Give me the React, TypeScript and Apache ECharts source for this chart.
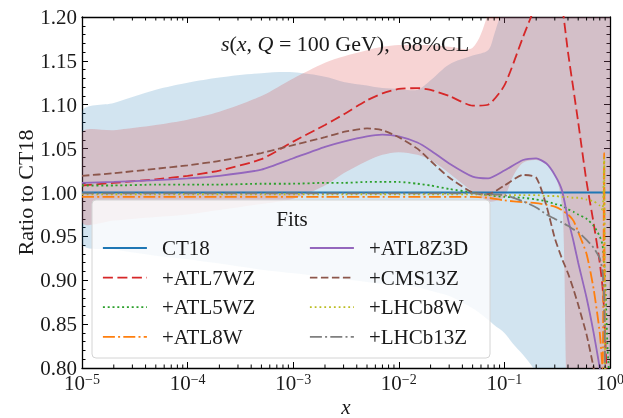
import React, { useEffect, useRef } from "react";
import * as echarts from "echarts";

const FONT = "'Liberation Serif', 'DejaVu Serif', serif";
const TXT = "#1a1a1a";

// x grid shared by the central curves
const xGrid = [1e-5, 2e-5, 5e-5, 1e-4, 2e-4, 5e-4, 1e-3, 2e-3, 3e-3, 5e-3, 7e-3, 1e-2, 1.5e-2, 2e-2, 3e-2, 5e-2, 7e-2, 0.1, 0.15, 0.2, 0.25, 0.3, 0.35, 0.4, 0.45, 0.5, 0.6, 0.7, 0.8, 0.85, 0.88, 0.9, 0.95, 1.0];

const ct18 = [1, 1, 1, 1, 1, 1, 1, 1, 1, 1, 1, 1, 1, 1, 1, 1, 1, 1, 1, 1, 1, 1, 1, 1, 1, 1, 1, 1, 1, 1, 1, 1, 1, 1];
const atl7wz = [1.008, 1.011, 1.015, 1.019, 1.025, 1.038, 1.058, 1.077, 1.089, 1.105, 1.113, 1.118, 1.119, 1.117, 1.110, 1.099, 1.100, 1.122, 1.177, 1.215, 1.245, 1.255, 1.215, 1.160, 1.118, 1.080, 1.012, 0.965, 0.920, 0.892, 0.865, 0.835, 0.770, 0.700];
const atl5wz = [1.008, 1.008, 1.009, 1.009, 1.009, 1.010, 1.010, 1.011, 1.011, 1.012, 1.012, 1.012, 1.010, 1.008, 1.004, 1.000, 0.997, 0.995, 0.994, 0.992, 0.990, 0.987, 0.985, 0.981, 0.978, 0.975, 0.970, 0.962, 0.950, 0.940, 0.920, 0.900, 0.820, 0.780];
const atl8w = [0.995, 0.995, 0.995, 0.995, 0.995, 0.995, 0.995, 0.995, 0.995, 0.995, 0.995, 0.995, 0.995, 0.995, 0.995, 0.995, 0.994, 0.991, 0.989, 0.988, 0.986, 0.984, 0.980, 0.975, 0.968, 0.955, 0.930, 0.890, 0.840, 0.800, 1.045, 0.780, 0.760, 0.750];
const atl8z3d = [1.011, 1.012, 1.014, 1.016, 1.019, 1.026, 1.039, 1.052, 1.058, 1.064, 1.066, 1.064, 1.057, 1.048, 1.033, 1.018, 1.016, 1.025, 1.037, 1.039, 1.033, 1.020, 1.003, 0.970, 0.945, 0.920, 0.880, 0.840, 0.800, 0.780, 0.770, 0.760, 0.740, 0.730];
const cms13z = [1.019, 1.022, 1.027, 1.031, 1.036, 1.045, 1.054, 1.063, 1.069, 1.073, 1.071, 1.063, 1.050, 1.036, 1.017, 1.000, 0.998, 1.008, 1.020, 1.017, 0.985, 0.948, 0.925, 0.908, 0.890, 0.872, 0.838, 0.800, 0.760, 0.745, 0.735, 0.725, 0.710, 0.700];
const lhcb8w = [0.998, 0.998, 0.998, 0.998, 0.998, 0.998, 0.998, 0.998, 0.998, 0.998, 0.998, 0.998, 0.998, 0.998, 0.998, 0.998, 0.997, 0.997, 0.997, 0.997, 0.996, 0.996, 0.995, 0.995, 0.994, 0.994, 0.992, 0.990, 0.985, 0.980, 1.040, 0.780, 0.760, 0.750];
const lhcb13z = [0.999, 0.999, 0.999, 0.999, 0.999, 0.999, 0.999, 0.999, 0.999, 0.999, 0.999, 0.999, 0.999, 0.999, 0.999, 0.999, 0.998, 0.997, 0.990, 0.983, 0.975, 0.970, 0.966, 0.962, 0.958, 0.955, 0.946, 0.937, 0.925, 0.910, 0.880, 0.800, 0.750, 0.720];

// 68% CL bands
const bandX = [1e-5, 2e-5, 5e-5, 1e-4, 2e-4, 5e-4, 1e-3, 2e-3, 3e-3, 5e-3, 7e-3, 1e-2, 1.5e-2, 2e-2, 3e-2, 5e-2, 7e-2, 8e-2, 0.1, 0.12, 0.15, 0.2, 0.25, 0.3, 0.33, 0.36, 0.4, 0.5, 0.7, 1.0];
const ct18Upper = [1.092, 1.102, 1.117, 1.125, 1.131, 1.136, 1.137, 1.132, 1.126, 1.122, 1.119, 1.118, 1.117, 1.128, 1.146, 1.156, 1.162, 1.180, 1.220, 1.280, 1.330, 1.400, 1.400, 1.400, 1.400, 1.400, 1.400, 1.400, 1.400, 1.400];
const ct18Lower = [0.942, 0.935, 0.928, 0.924, 0.919, 0.912, 0.908, 0.904, 0.901, 0.898, 0.896, 0.895, 0.892, 0.888, 0.882, 0.868, 0.855, 0.849, 0.840, 0.828, 0.815, 0.795, 0.770, 0.740, 0.720, 0.700, 0.680, 0.650, 0.600, 0.600];
const atl7Upper = [1.068, 1.071, 1.077, 1.083, 1.092, 1.110, 1.130, 1.148, 1.155, 1.162, 1.166, 1.168, 1.168, 1.168, 1.166, 1.165, 1.205, 1.250, 1.300, 1.350, 1.400, 1.400, 1.400, 1.400, 1.400, 1.400, 1.400, 1.400, 1.400, 1.400];
const atl7Lower = [0.966, 0.968, 0.972, 0.975, 0.980, 0.987, 0.993, 1.008, 1.022, 1.036, 1.043, 1.046, 1.043, 1.037, 1.022, 1.001, 0.990, 0.990, 0.995, 1.018, 1.034, 1.037, 1.032, 1.020, 1.005, 0.970, 0.720, 0.600, 0.600, 0.600];

const yTicks = { min: 0.8, max: 1.2, step: 0.05 };
const xRange = { min: 1e-5, max: 1 };
const decades = [1e-5, 1e-4, 1e-3, 1e-2, 1e-1];
const minorMultipliers = [2, 3, 4, 5, 6, 7, 8, 9];

const legendLeft = ["CT18", "+ATL7WZ", "+ATL5WZ", "+ATL8W"];
const legendRight = ["+ATL8Z3D", "+CMS13Z", "+LHCb8W", "+LHCb13Z"];

const curves = [
  { name: "CT18", y: ct18, color: "#1f77b4", dash: "solid" as any },
  { name: "+ATL7WZ", y: atl7wz, color: "#d62728", dash: [10, 4.5] },
  { name: "+ATL5WZ", y: atl5wz, color: "#2ca02c", dash: [2, 2.8] },
  { name: "+ATL8W", y: atl8w, color: "#ff7f0e", dash: [12, 3.2, 2, 3.2] },
  { name: "+ATL8Z3D", y: atl8z3d, color: "#9467bd", dash: "solid" as any },
  { name: "+CMS13Z", y: cms13z, color: "#8c564b", dash: [7.5, 3.5] },
  { name: "+LHCb8W", y: lhcb8w, color: "#bcbd22", dash: [1.8, 3] },
  { name: "+LHCb13Z", y: lhcb13z, color: "#7f7f7f", dash: [12, 3.2, 2, 3.2] },
];

function bandSeries(name: string, lo: number[], hi: number[], fill: string) {
  return {
    type: "custom",
    name,
    data: [[bandX[0], lo[0]]],
    encode: { x: 0, y: 1 },
    clip: true,
    silent: true,
    z: 1,
    renderItem: (params: any, api: any) => {
      const pts: number[][] = [];
      for (let i = 0; i < bandX.length; i++) pts.push(api.coord([bandX[i], hi[i]]));
      for (let i = bandX.length - 1; i >= 0; i--) pts.push(api.coord([bandX[i], lo[i]]));
      return { type: "polygon", shape: { points: pts, smooth: 0.3 }, style: { fill, stroke: "none" } };
    },
  };
}

export default function App() {
  const ref = useRef<HTMLDivElement>(null);
  useEffect(() => {
    if (!ref.current) return;
    const chart = echarts.init(ref.current, undefined, { renderer: "svg" });
    const minorX: number[] = [];
    decades.forEach((d) => minorMultipliers.forEach((m) => minorX.push(m * d)));

    const legendCommon = {
      orient: "vertical",
      top: 237,
      itemWidth: 44,
      itemHeight: 22,
      itemGap: 7.6,
      padding: 0,
      selectedMode: false,
      z: 60,
      itemStyle: { opacity: 0 },
      lineStyle: { width: 1.8 },
      textStyle: { fontFamily: FONT, fontSize: 21, color: TXT, lineHeight: 22, padding: [0, 0, 0, 10] },
    };

    const axisCommonX = {
      type: "log",
      logBase: 10,
      min: xRange.min,
      max: xRange.max,
      splitNumber: 5,
      splitLine: { show: false },
      axisLine: { onZero: false, lineStyle: { color: "#000", width: 1.3 } },
      axisTick: { inside: true, length: 6, lineStyle: { color: "#000", width: 1 } },
    };
    const axisCommonY = {
      type: "value",
      min: yTicks.min,
      max: yTicks.max,
      interval: yTicks.step,
      splitLine: { show: false },
      axisLine: { onZero: false, lineStyle: { color: "#000", width: 1.3 } },
      axisTick: { inside: true, length: 6, lineStyle: { color: "#000", width: 1 } },
      minorTick: { show: true, splitNumber: 5, length: 3.5, lineStyle: { color: "#000", width: 1 } },
    };

    const option: any = {
      animation: false,
      textStyle: { fontFamily: FONT },
      grid: { left: 82, right: 13, top: 17, bottom: 50, outerBoundsMode: "none", containLabel: false },
      xAxis: [
        {
          ...axisCommonX,
          position: "bottom",
          name: "x",
          nameLocation: "middle",
          nameGap: 30,
          nameMoveOverlap: false,
          nameTextStyle: { fontFamily: FONT, fontSize: 21, lineHeight: 18, fontStyle: "italic", color: TXT },
          axisLabel: {
            margin: 4,
            showMinLabel: true,
            showMaxLabel: true,
            formatter: (v: number) => {
              const e = Math.round(Math.log10(v));
              return `{b|10}{s|${e < 0 ? "\u2212" + -e : e}}`;
            },
            rich: {
              b: { fontFamily: FONT, fontSize: 21, color: TXT, lineHeight: 22 },
              s: { fontFamily: FONT, fontSize: 14, color: TXT, lineHeight: 8, verticalAlign: "top" },
            },
          },
        },
        { ...axisCommonX, position: "top", axisLabel: { show: false } },
      ],
      yAxis: [
        {
          ...axisCommonY,
          position: "left",
          name: "Ratio to CT18",
          nameLocation: "middle",
          nameGap: 46,
          nameMoveOverlap: false,
          nameTextStyle: { fontFamily: FONT, fontSize: 22, color: TXT },
          axisLabel: {
            margin: 5,
            fontFamily: FONT,
            fontSize: 21,
            color: TXT,
            showMinLabel: true,
            showMaxLabel: true,
            formatter: (v: number) => v.toFixed(2),
          },
        },
        { ...axisCommonY, position: "right", axisLabel: { show: false } },
      ],
      legend: [
        { ...legendCommon, left: 102, data: legendLeft },
        { ...legendCommon, left: 309, data: legendRight },
      ],
      graphic: {
        elements: [
          {
            type: "rect",
            z: 50,
            silent: true,
            shape: { x: 92, y: 200, width: 398, height: 158, r: 4 },
            style: { fill: "rgba(255,255,255,0.8)", stroke: "#d4d4d4", lineWidth: 1 },
          },
          {
            type: "text",
            z: 60,
            silent: true,
            x: 292,
            y: 219,
            style: { text: "Fits", fontFamily: FONT, fontSize: 21, fill: TXT, align: "center", verticalAlign: "middle" },
          },
          {
            type: "text",
            z: 60,
            silent: true,
            x: 345,
            y: 43,
            style: {
              text: "{i|s}{n|(}{i|x}{n|, }{i|Q}{n| = 100 GeV),  68%CL}",
              align: "center",
              verticalAlign: "middle",
              fill: TXT,
              rich: {
                i: { fontFamily: FONT, fontSize: 22, fontStyle: "italic", fill: TXT },
                n: { fontFamily: FONT, fontSize: 22, fill: TXT },
              },
            },
          },
        ],
      },
      series: [
        bandSeries("CT18 band", ct18Lower, ct18Upper, "rgba(31,119,180,0.2)"),
        bandSeries("ATL7WZ band", atl7Lower, atl7Upper, "rgba(214,39,40,0.2)"),
        ...curves.map((c) => ({
          type: "line",
          name: c.name,
          data: xGrid.map((x, i) => [x, c.y[i]]),
          symbol: "none",
          smooth: 0.2,
          clip: true,
          z: 3,
          lineStyle: { color: c.color, width: 1.8, type: c.dash },
          itemStyle: { color: c.color },
        })),
        {
          type: "custom",
          name: "minor ticks",
          data: minorX.map((v) => [v, yTicks.min]),
          encode: { x: 0, y: 1 },
          clip: false,
          silent: true,
          z: 10,
          renderItem: (params: any, api: any) => {
            const v = api.value(0);
            const b = api.coord([v, yTicks.min]);
            const t = api.coord([v, yTicks.max]);
            return {
              type: "group",
              children: [
                { type: "line", shape: { x1: b[0], y1: b[1], x2: b[0], y2: b[1] - 3.5 }, style: { stroke: "#000", lineWidth: 1 } },
                { type: "line", shape: { x1: t[0], y1: t[1], x2: t[0], y2: t[1] + 3.5 }, style: { stroke: "#000", lineWidth: 1 } },
              ],
            };
          },
        },
      ],
    };
    chart.setOption(option);
    return () => chart.dispose();
  }, []);
  return <div ref={ref} style={{ position: "fixed", left: 0, top: 0, width: 623, height: 418 }} />;
}
